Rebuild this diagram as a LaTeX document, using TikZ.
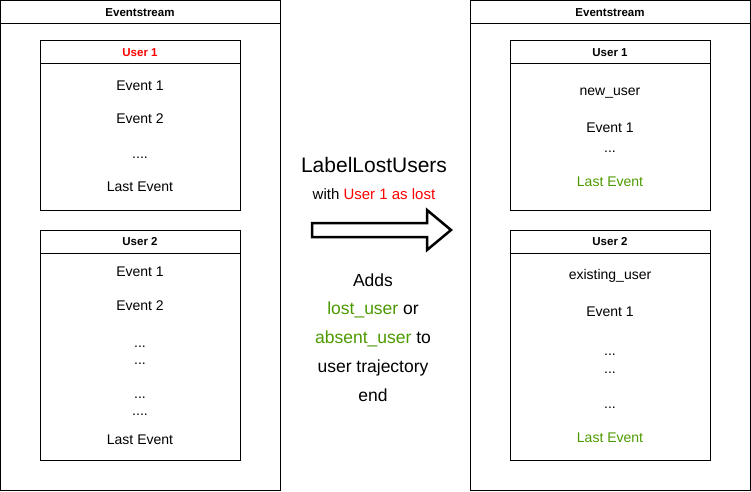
\documentclass[tikz,border=0pt]{standalone}
\usepackage{fontspec}
\setmainfont{Liberation Sans}
\definecolor{lostred}{HTML}{FF0000}
\definecolor{tagreen}{HTML}{4D9900}

\begin{document}
\begin{tikzpicture}[x=1pt, y=-1pt,
  box/.style={draw=black, line width=1pt},
  hd/.style={inner sep=0pt, text height=8.3pt, text depth=0pt, font=\bfseries\fontsize{11.5}{13}\selectfont},
  ev/.style={inner sep=0pt, text height=10pt, text depth=0pt, font=\fontsize{14}{16}\selectfont},
  mid/.style={inner sep=0pt, text height=12.5pt, text depth=0pt, font=\fontsize{17.5}{20}\selectfont}]
\useasboundingbox (0,0) rectangle (751,491);
% left eventstream
\draw[box] (0.5,0.5) rectangle (280,490);
\draw[box] (0.5,23) -- (280,23);
\node[hd] (ES1) at (140,12) {Eventstream};
\draw[box] (40,40) rectangle (240,210);
\draw[box] (40,63) -- (240,63);
\node[hd, text=lostred] (LU1) at (140,52) {User 1};
\node[ev] (LU1a) at (140,85) {Event 1};
\node[ev] (LU1b) at (140,118) {Event 2};
\node[ev] (LU1c) at (140,153) {....};
\node[ev] (LU1d) at (140,186) {Last Event};
\draw[box] (40,230) rectangle (240,460);
\draw[box] (40,253) -- (240,253);
\node[hd] (LU2) at (140,241.5) {User 2};
\node[ev] (LU2a) at (140,271) {Event 1};
\node[ev] (LU2b) at (140,305) {Event 2};
\node[ev] (LU2c) at (140,342) {...};
\node[ev] (LU2d) at (140,359) {...};
\node[ev] (LU2e) at (140,393) {...};
\node[ev] (LU2f) at (140,410) {....};
\node[ev] (LU2g) at (140,439) {Last Event};
% right eventstream
\draw[box] (470,0.5) rectangle (750.5,490);
\draw[box] (470,23) -- (750.5,23);
\node[hd] (ES2) at (610,12) {Eventstream};
\draw[box] (510,40) rectangle (710,210);
\draw[box] (510,63) -- (710,63);
\node[hd] (RU1) at (610,52) {User 1};
\node[ev] (RU1a) at (610,90) {new\_user};
\node[ev] (RU1b) at (610,127) {Event 1};
\node[ev] (RU1c) at (610,147) {...};
\node[ev, text=tagreen] (RU1d) at (610,181) {Last Event};
\draw[box] (510,230) rectangle (710,460);
\draw[box] (510,253) -- (710,253);
\node[hd] (RU2) at (610,241.5) {User 2};
\node[ev] (RU2a) at (610,274) {existing\_user};
\node[ev] (RU2b) at (610,311) {Event 1};
\node[ev] (RU2c) at (610,350) {...};
\node[ev] (RU2d) at (610,368) {...};
\node[ev] (RU2e) at (610,403) {...};
\node[ev, text=tagreen] (RU2f) at (610,437) {Last Event};
% transformation
\node[inner sep=0pt, text height=15pt, text depth=0pt, font=\fontsize{21}{24}\selectfont] (LLU) at (374,165) {LabelLostUsers};
\node[inner sep=0pt, text height=10.7pt, text depth=0pt, font=\fontsize{15}{18}\selectfont] (with) at (374,194) {with \textcolor{lostred}{User 1 as lost}};
\draw[line width=2.5pt, line join=miter] (312,223) -- (427,223) -- (427,210) -- (451,230) -- (427,250) -- (427,237) -- (312,237) -- cycle;
\node[mid] (A1) at (373,280) {Adds};
\node[mid] (A2) at (373,308) {\textcolor{tagreen}{lost\_user} or};
\node[mid] (A3) at (373,337) {\textcolor{tagreen}{absent\_user} to};
\node[mid] (A4) at (373,366) {user trajectory};
\node[mid] (A5) at (373,395) {end};
\end{tikzpicture}
\end{document}
